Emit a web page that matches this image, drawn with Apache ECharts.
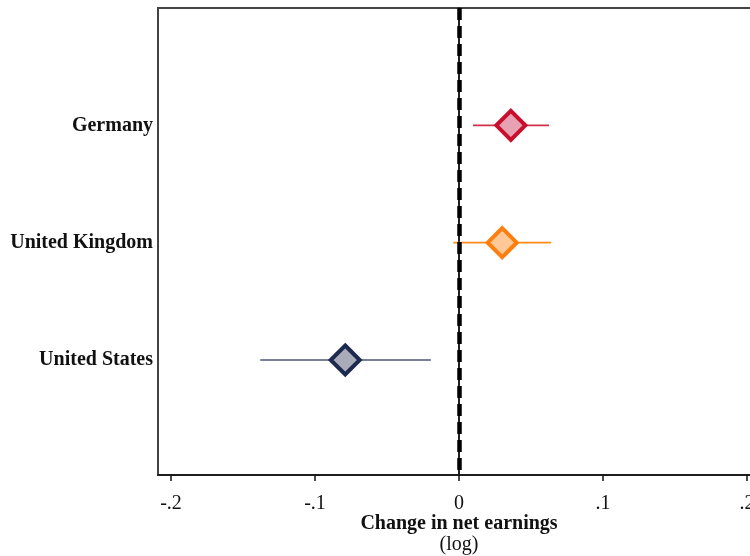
<!DOCTYPE html>
<html>
<head>
<meta charset="utf-8">
<script src="https://cdn.jsdelivr.net/npm/echarts@6/dist/echarts.min.js"></script>
<style>
  html, body { margin: 0; padding: 0; background: #fff; }
  #chart { width: 750px; height: 556px; }
</style>
</head>
<body>
<div id="chart"></div>
<script>
// Estimated change in log net earnings with confidence intervals
const countries = ['Germany', 'United Kingdom', 'United States'];
const estimates = [0.036, 0.030, -0.079];
const ciLow = [0.0097, -0.004, -0.138];
const ciHigh = [0.0625, 0.064, -0.0195];
const rowPos = [1, 2, 3];
const xTicks = [-0.2, -0.1, 0, 0.1, 0.2];
const xTickLabels = ['-.2', '-.1', '0', '.1', '.2'];

const borderColors = ['#c8102e', '#ff7f0e', '#1b2a4e'];
const fillColors = ['#e8a1b2', '#ffc896', '#a9acb8'];
const barColors = ['#d0304c', '#ff8c1a', '#4a5577'];

const serif = "'Liberation Serif', 'Times New Roman', serif";

const chart = echarts.init(document.getElementById('chart'));

const ciSeries = countries.map((c, i) => ({
  type: 'custom',
  name: c + ' CI',
  data: [[ciLow[i], ciHigh[i], rowPos[i]]],
  z: 2,
  renderItem: function (params, api) {
    const a = api.coord([api.value(0), api.value(2)]);
    const b = api.coord([api.value(1), api.value(2)]);
    return {
      type: 'line',
      shape: { x1: a[0], y1: a[1], x2: b[0], y2: b[1] },
      style: { stroke: barColors[i], lineWidth: 1.6 }
    };
  }
}));

const pointSeries = countries.map((c, i) => ({
  type: 'scatter',
  name: c,
  data: [[estimates[i], rowPos[i]]],
  symbol: 'diamond',
  symbolSize: [29, 29],
  z: 5,
  itemStyle: {
    color: fillColors[i],
    borderColor: borderColors[i],
    borderWidth: 4,
    opacity: 1
  }
}));

chart.setOption({
  animation: false,
  backgroundColor: '#ffffff',
  grid: {
    left: 158, right: -10, top: 8, bottom: 81,
    outerBoundsMode: 'none',
    containLabel: false,
    show: true, borderColor: '#444', borderWidth: 2, backgroundColor: '#fff'
  },
  xAxis: {
    type: 'value',
    min: -0.209, max: 0.209,
    splitLine: { show: false },
    axisLine: { show: true, onZero: false, lineStyle: { color: '#111', width: 1.5 } },
    axisTick: { show: true, customValues: xTicks, length: 6, lineStyle: { color: '#111', width: 1.5 } },
    axisLabel: {
      customValues: xTicks,
      formatter: function (v) {
        const k = xTicks.findIndex(t => Math.abs(t - v) < 1e-9);
        return k >= 0 ? xTickLabels[k] : '';
      },
      margin: 19,
      hideOverlap: false,
      color: '#111', fontFamily: serif, fontSize: 20
    },
    name: '{b|Change in net earnings}\n{n|(log)}',
    nameLocation: 'middle',
    nameGap: 38,
    nameMoveOverlap: false,
    nameTextStyle: {
      rich: {
        b: { fontFamily: serif, fontWeight: 'bold', fontSize: 20, color: '#111', lineHeight: 21, align: 'center' },
        n: { fontFamily: serif, fontSize: 20, color: '#111', lineHeight: 21, align: 'center' }
      }
    }
  },
  yAxis: {
    type: 'value',
    min: 0, max: 3.98,
    inverse: true,
    splitLine: { show: false },
    axisLine: { show: true, lineStyle: { color: '#222', width: 2 } },
    axisTick: { show: false },
    axisLabel: {
      customValues: rowPos,
      formatter: function (v) {
        const k = rowPos.indexOf(v);
        return k >= 0 ? countries[k] : '';
      },
      margin: 5,
      color: '#111', fontFamily: serif, fontWeight: 'bold', fontSize: 20
    }
  },
  series: [
    {
      type: 'line',
      name: 'zero',
      data: [],
      markLine: {
        silent: true,
        symbol: ['none', 'none'],
        label: { show: false },
        lineStyle: { color: '#000', width: 4.5, type: [12, 6] },
        data: [{ xAxis: 0 }]
      },
      z: 1
    }
  ].concat(ciSeries, pointSeries)
});
</script>
</body>
</html>
